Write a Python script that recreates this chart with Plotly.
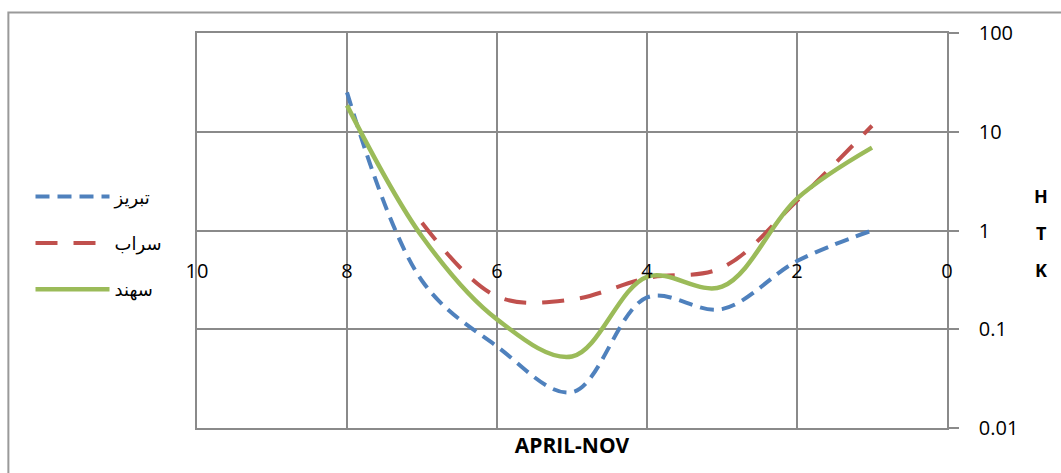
import plotly.graph_objects as go

# Data
x_vals = [8, 7, 6, 5, 4, 3, 2, 1]
tabriz = [25, 0.31, 0.067, 0.023, 0.21, 0.16, 0.49, 1.0]
sarab = [None, 1.2, 0.215, 0.2, 0.33, 0.42, 2.0, 11.5]
sahand = [18.5, 0.87, 0.126, 0.053, 0.34, 0.27, 2.1, 6.9]

series_names = ["تبریز", "سراب", "سهند"]
x_ticks = [10, 8, 6, 4, 2, 0]
y_ticks = [0.01, 0.1, 1, 10, 100]
y_ticktext = ["0.01", "0.1", "1", "10", "100"]

GRID = "#8a8a8a"
FONT = "Open Sans, DejaVu Sans, sans-serif"

fig = go.Figure()
styles = [
    dict(color="#4F81BD", width=4, dash="14px,8px"),
    dict(color="#C0504D", width=4, dash="22px,16px"),
    dict(color="#9BBB59", width=4.5, dash="solid"),
]
for name, ys, st in zip(series_names, [tabriz, sarab, sahand], styles):
    fig.add_trace(go.Scatter(
        x=x_vals, y=ys, name=name, mode="lines",
        line=dict(shape="spline", smoothing=1.0, **st),
        legendgroup=name, connectgaps=False,
    ))

# dummy trace for overlay x-axis carrying tick labels at y=1
fig.add_trace(go.Scatter(x=[None], y=[None], xaxis="x2", showlegend=False, hoverinfo="skip"))

fig.update_layout(
    width=1061, height=473,
    margin=dict(l=197, r=114, t=33, b=45),
    paper_bgcolor="white", plot_bgcolor="white",
    font=dict(family=FONT, size=19, color="black"),
    showlegend=True,
    legend=dict(
        x=-0.222, xanchor="left", y=0.632, yanchor="top",
        font=dict(family="DejaVu Sans, sans-serif", size=18),
        tracegroupgap=20, traceorder="grouped", itemwidth=74,
        bgcolor="rgba(0,0,0,0)",
    ),
    xaxis=dict(
        range=[10, 0], showgrid=True, gridcolor=GRID, gridwidth=1.5,
        tickvals=x_ticks, showticklabels=False, zeroline=False,
        showline=True, mirror=True, linecolor=GRID, linewidth=1.5,
        title=dict(text="<b>APRIL-NOV</b>", font=dict(size=21, family=FONT), standoff=10),
    ),
    xaxis2=dict(
        overlaying="x", anchor="free", position=0.4987, range=[10, 0],
        showgrid=False, zeroline=False, showline=False,
        tickvals=x_ticks, ticktext=[str(v) for v in x_ticks],
        ticks="outside", ticklen=22, tickcolor="rgba(0,0,0,0)",
        tickfont=dict(size=20, family=FONT),
    ),
    yaxis=dict(
        type="log", range=[-2, 2], side="right",
        tickvals=y_ticks, ticktext=y_ticktext,
        showgrid=True, gridcolor=GRID, gridwidth=1.5,
        showline=True, mirror=True, linecolor=GRID, linewidth=1.5,
        ticks="outside", ticklen=10, tickcolor=GRID, tickwidth=1.5,
        ticklabelstandoff=16, tickfont=dict(size=20, family=FONT),
        zeroline=False,
    ),
    shapes=[dict(
        type="rect", xref="paper", yref="paper",
        x0=-0.2515, x1=1.3, y0=-0.3, y1=1.052,
        line=dict(color="#9a9a9a", width=2), fillcolor="rgba(0,0,0,0)", layer="below",
    )],
)

for i, letter in enumerate(["H", "T", "K"]):
    fig.add_annotation(
        text=f"<b>{letter}</b>", xref="paper", yref="paper",
        x=(1041 - 197) / 750, y=(428 - (196 + 37 * i)) / 395,
        showarrow=False, font=dict(size=18, family=FONT),
        xanchor="center", yanchor="middle",
    )

fig.write_html(
    "out.html",
    config={"displayModeBar": False},
    post_script="document.body.style.margin='0';document.body.style.overflow='hidden';",
)
